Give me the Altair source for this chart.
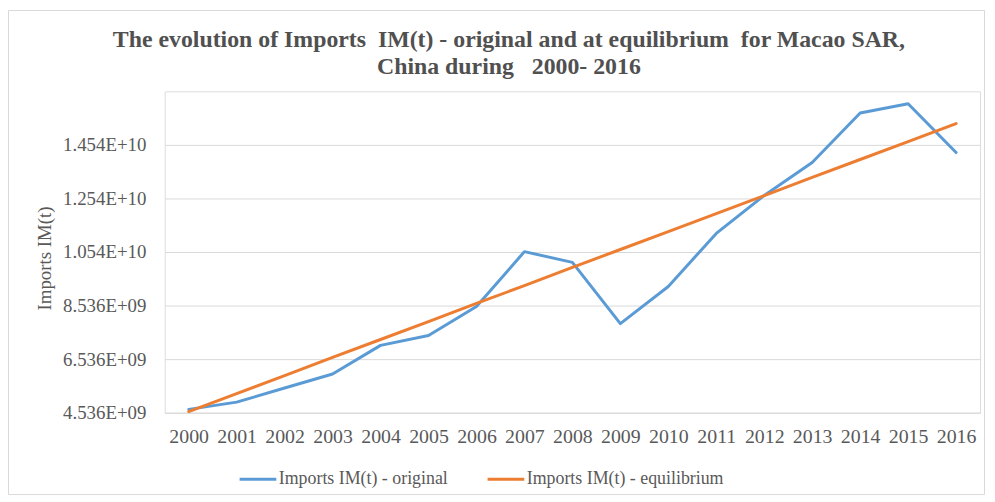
import altair as alt
import pandas as pd

years = [str(y) for y in range(2000, 2017)]
original = [4.66e9, 4.93e9, 5.46e9, 5.98e9, 7.05e9, 7.42e9, 8.50e9, 10.55e9, 10.15e9,
            7.86e9, 9.25e9, 11.23e9, 12.65e9, 13.88e9, 15.73e9, 16.07e9, 14.25e9]
equilibrium = [4.58e9, 5.25e9, 5.92e9, 6.60e9, 7.27e9, 7.94e9, 8.62e9, 9.28e9, 9.96e9,
               10.63e9, 11.30e9, 11.97e9, 12.64e9, 13.32e9, 13.99e9, 14.66e9, 15.33e9]
y_ticks = [4.536e9, 6.536e9, 8.536e9, 10.536e9, 12.536e9, 14.536e9]
series_names = ["Imports IM(t) - original", "Imports IM(t) - equilibrium"]
series_colors = ["#5B9BD5", "#ED7D31"]
title_text = ("The evolution of Imports \u00a0IM(t) - original and at equilibrium \u00a0for Macao SAR,\n"
              "China during \u00a0 2000- 2016")

rows = []
for yr, v in zip(years, original):
    rows.append({"year": yr, "value": v, "series": series_names[0]})
for yr, v in zip(years, equilibrium):
    rows.append({"year": yr, "value": v, "series": series_names[1]})
df = pd.DataFrame(rows)

FONT = "Liberation Serif"
GRAY = "#595959"

x_enc = alt.X("year:O", scale=alt.Scale(type="point", padding=0.5),
              axis=alt.Axis(title=None, labelAngle=0, labelFont=FONT, labelFontSize=20,
                            labelColor=GRAY, ticks=False, domain=False, grid=False,
                            labelPadding=14))
y_enc = alt.Y("value:Q", scale=alt.Scale(domain=[4.536e9, 16.536e9], nice=False, zero=False),
              axis=alt.Axis(values=y_ticks, title="Imports IM(t)", titleFont=FONT,
                            titleFontSize=19, titleFontWeight="normal", titleColor=GRAY,
                            titleX=-121, titleY=168, titleAngle=-90, titleBaseline="middle",
                            titleAlign="center",
                            labelExpr="datum.value < 1e10 ? replace(format(datum.value, '.3e'), 'e+', 'E+0') : replace(format(datum.value, '.3e'), 'e+', 'E+')",
                            labelFont=FONT, labelFontSize=19, labelColor=GRAY,
                            ticks=False, domain=False, labelPadding=19,
                            gridColor="#D9D9D9", gridWidth=1))
color_enc = alt.Color("series:N",
                      scale=alt.Scale(domain=series_names, range=series_colors),
                      legend=alt.Legend(title=None, orient="none", legendX=74, legendY=371,
                                        direction="horizontal", symbolType="stroke",
                                        symbolSize=1369, symbolStrokeWidth=3,
                                        labelFont=FONT, labelFontSize=18, labelColor=GRAY,
                                        labelOffset=1, columnPadding=33, labelLimit=400))

one = pd.DataFrame({"f": [0]})
frame = alt.Chart(one).mark_rect(
    fill=None, stroke="#D9D9D9", strokeWidth=1).encode(
    x=alt.value(-157.5), x2=alt.value(826.5), y=alt.value(-81.5), y2=alt.value(406.5))

title = alt.Chart(one).mark_text(
    font=FONT, fontSize=24, fontWeight="bold", color="#505050", align="center",
    baseline="alphabetic", lineBreak="\n", lineHeight=28).encode(
    x=alt.value(347), y=alt.value(-45), text=alt.value(title_text))

lines = []
for name in series_names:
    lines.append(alt.Chart(df).transform_filter(alt.datum.series == name)
                 .mark_line(strokeWidth=3, strokeJoin="round", strokeCap="round")
                 .encode(x=x_enc, y=y_enc, color=color_enc))

chart = alt.layer(frame, title, *lines).properties(
    width=822, height=324,
    autosize=alt.AutoSizeParams(type="none"),
    padding={"left": 158, "top": 82, "right": 7, "bottom": 86},
).configure_view(stroke=None).configure(background="white")

chart.save("out.html", embed_options={"renderer": "svg", "actions": False})
